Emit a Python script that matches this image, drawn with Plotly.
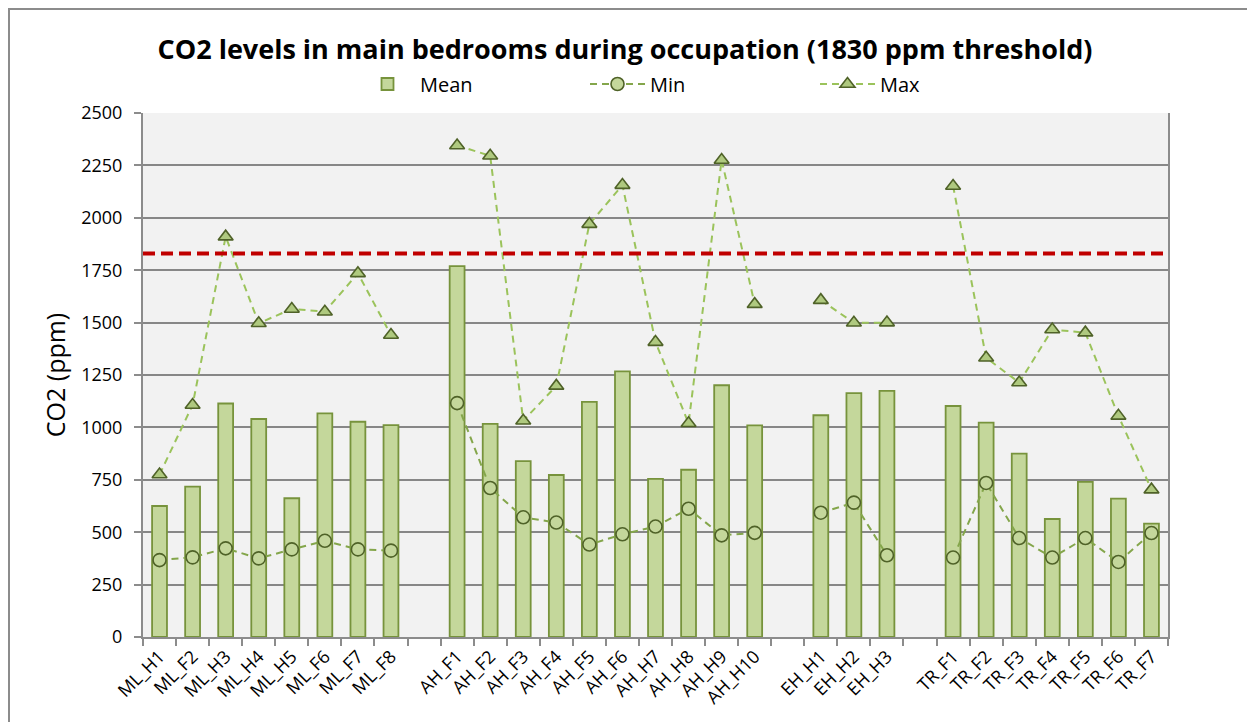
import plotly.graph_objects as go

# ---- data ----
ml_cats = ["ML_H1", "ML_F2", "ML_H3", "ML_H4", "ML_H5", "ML_F6", "ML_F7", "ML_F8"]
ml_mean = [625, 717, 1114, 1040, 662, 1067, 1027, 1011]
ml_min = [367, 380, 423, 375, 418, 459, 418, 412]
ml_max = [775, 1107, 1910, 1497, 1565, 1552, 1735, 1441]

ah_cats = ["AH_F1", "AH_F2", "AH_F3", "AH_F4", "AH_F5", "AH_F6", "AH_H7", "AH_H8", "AH_H9", "AH_H10"]
ah_mean = [1769, 1017, 839, 773, 1122, 1267, 754, 798, 1201, 1010]
ah_min = [1116, 711, 571, 546, 441, 490, 527, 612, 485, 497]
ah_max = [2345, 2296, 1032, 1198, 1970, 2156, 1407, 1020, 2276, 1588]

eh_cats = ["EH_H1", "EH_H2", "EH_H3"]
eh_mean = [1058, 1164, 1174]
eh_min = [593, 641, 390]
eh_max = [1607, 1499, 1500]

tr_cats = ["TR_F1", "TR_F2", "TR_F3", "TR_F4", "TR_F5", "TR_F6", "TR_F7"]
tr_mean = [1102, 1023, 875, 563, 740, 660, 541]
tr_min = [379, 735, 472, 379, 472, 358, 496]
tr_max = [2152, 1332, 1214, 1467, 1452, 1055, 703]

gap_labels = [" ", "  ", "   "]  # empty category slots between site groups
threshold = 1830

y_ticks = [0, 250, 500, 750, 1000, 1250, 1500, 1750, 2000, 2250, 2500]

# ---- assemble categories with gaps ----
categories = ml_cats + [gap_labels[0]] + ah_cats + [gap_labels[1]] + eh_cats + [gap_labels[2]] + tr_cats
mean_vals = ml_mean + [None] + ah_mean + [None] + eh_mean + [None] + tr_mean
min_vals = ml_min + [None] + ah_min + [None] + eh_min + [None] + tr_min
max_vals = ml_max + [None] + ah_max + [None] + eh_max + [None] + tr_max

FONT = "Open Sans"

# plot area geometry (figure pixels)
L, R, T, B = 135, 95, 105, 93
PW = 1255 - L - R
PH = 722 - T - B

fig = go.Figure()
fig.add_trace(go.Bar(
    x=categories, y=mean_vals, name="Mean", width=0.45,
    marker=dict(color="#C4D79B", line=dict(color="#77933C", width=1.8)),
))
fig.add_trace(go.Scatter(
    x=categories, y=min_vals, name="Min", mode="lines+markers", connectgaps=False,
    line=dict(color="#84A64B", width=2, dash="7px,5px"),
    marker=dict(symbol="circle", size=13, color="#C4D79B", line=dict(color="#4F6228", width=1.6)),
))
fig.add_trace(go.Scatter(
    x=categories, y=max_vals, name="Max", mode="lines+markers", connectgaps=False,
    line=dict(color="#9BC35B", width=2, dash="7px,5px"),
    marker=dict(symbol="triangle-up", size=13, color="#AFC97F", line=dict(color="#4F6228", width=1.6)),
))

# threshold line
fig.add_shape(type="line", xref="paper", yref="y", x0=0, x1=1, y0=threshold, y1=threshold,
              line=dict(color="#C00000", width=4, dash="12px,6px"), layer="above")

# outer chart border
fig.add_shape(type="rect", xref="paper", yref="paper",
              x0=(1 - L) / PW, x1=(1270 - L) / PW,
              y0=-120 / PH, y1=(PH + T - 1) / PH,
              line=dict(color="#8C8C8C", width=2), fillcolor="rgba(0,0,0,0)", layer="below")

fig.update_layout(
    width=1255, height=722,
    margin=dict(l=L, r=R, t=T, b=B),
    paper_bgcolor="white", plot_bgcolor="#F2F2F2",
    font=dict(family=FONT, color="#000000"),
    title=dict(text="<b>CO2 levels in main bedrooms during occupation (1830 ppm threshold)</b>",
               x=617 / 1255, xanchor="center", y=1 - 42 / 722, yanchor="middle", yref="container",
               font=dict(size=27, family=FONT, color="#000000")),
    legend=dict(orientation="h", x=(347 - L) / PW, xanchor="left", y=(PH + T - 76) / PH, yanchor="middle",
                font=dict(size=20, family=FONT), bgcolor="rgba(0,0,0,0)",
                entrywidth=160, entrywidthmode="pixels", itemwidth=55),
    showlegend=True,
)

fig.update_xaxes(
    type="category", categoryorder="array", categoryarray=categories,
    range=[-0.5, len(categories) - 0.5],
    tickangle=-45, tickfont=dict(size=18, family=FONT, color="#000000"),
    showline=True, linecolor="#8C8C8C", linewidth=2,
    ticks="outside", tickson="boundaries", ticklen=7, tickcolor="#8C8C8C", tickwidth=2,
    showgrid=False,
)
fig.update_yaxes(
    range=[0, 2500], tickvals=y_ticks,
    tickfont=dict(size=18, family=FONT, color="#000000"), ticklabelstandoff=8,
    title=dict(text="CO2 (ppm)", font=dict(size=25, family=FONT, color="#000000"), standoff=8),
    showline=True, linecolor="#8C8C8C", linewidth=2, mirror=True,
    ticks="outside", ticklen=7, tickcolor="#8C8C8C", tickwidth=2,
    showgrid=True, gridcolor="#878787", gridwidth=1.5,
    zeroline=False,
)

fig.write_html("out.html")
